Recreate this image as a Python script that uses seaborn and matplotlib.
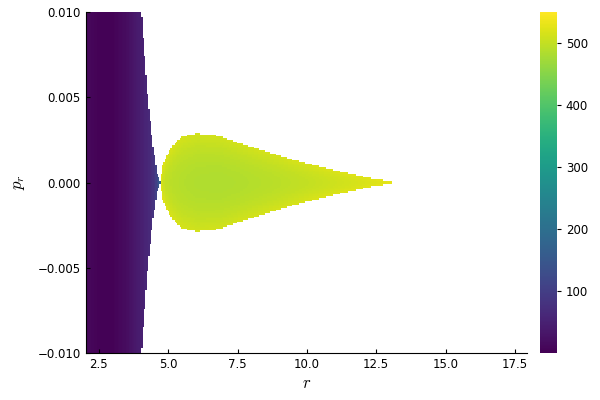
import matplotlib
matplotlib.use("Agg")
import matplotlib.pyplot as plt
import numpy as np
import pandas as pd
import seaborn as sns

# Left (bounded) region: right edge vs |p_r|, value vs r
left_p = [0.0, 0.00056, 0.00232, 0.00484, 0.0100]
left_r_edge = [4.73, 4.59, 4.44, 4.27, 4.04]
left_r = [2.03, 2.5, 3.0, 3.5, 4.0, 4.3, 4.5, 4.6, 4.7]
left_val = [12, 3, 4, 18, 45, 62, 85, 120, 170]

# Drop-shaped island: half-width in p_r and values on axis / at rim
drop_r = [4.74, 4.80, 4.90, 5.17, 5.53, 6.03, 6.86, 7.58, 8.77, 10.0, 11.19, 12.38, 13.1]
drop_half = [0.0003, 0.0010, 0.0014, 0.0022, 0.0027, 0.00287, 0.00273, 0.00229,
             0.0017, 0.00111, 0.00065, 0.00023, 0.00006]
drop_axis_val = [525, 510, 500, 492, 488, 485, 484, 486, 492, 500, 510, 520, 528]
drop_edge_val = [530, 525, 522, 518, 515, 512, 512, 513, 515, 518, 522, 526, 530]

x_ticks = [2.5, 5.0, 7.5, 10.0, 12.5, 15.0, 17.5]
y_ticks = [-0.010, -0.005, 0.000, 0.005, 0.010]
cbar_ticks = [100, 200, 300, 400, 500]

# grid
r_min, r_max, dr = 2.03, 17.93, 0.05
p_min, p_max, dp = -0.010, 0.010, 0.0001
nx = int(round((r_max - r_min) / dr))
ny = int(round((p_max - p_min) / dp))
r_c = r_min + dr * (np.arange(nx) + 0.5)
p_c = p_max - dp * (np.arange(ny) + 0.5)  # top row = largest p

R, P = np.meshgrid(r_c, p_c)
Z = np.full(R.shape, np.nan)

# left region
edge = np.interp(np.abs(P), left_p, left_r_edge)
in_left = R <= edge
Z[in_left] = np.interp(R[in_left], left_r, left_val)

# drop region
half = np.interp(R, drop_r, drop_half, left=0, right=0)
in_drop = (np.abs(P) <= half) & (R >= drop_r[0]) & (R <= drop_r[-1])
frac = np.abs(P[in_drop]) / half[in_drop]
v_axis = np.interp(R[in_drop], drop_r, drop_axis_val)
v_edge = np.interp(R[in_drop], drop_r, drop_edge_val)
Z[in_drop] = v_axis + (v_edge - v_axis) * frac ** 2

df = pd.DataFrame(Z, index=p_c, columns=r_c)

plt.rcParams["mathtext.fontset"] = "cm"
fig = plt.figure(figsize=(6, 4), dpi=100)
ax = fig.add_axes([0.143, 0.1175, 0.735, 0.8525])
cax = fig.add_axes([0.9, 0.1175, 0.028, 0.8525])

sns.heatmap(df, ax=ax, cbar_ax=cax, cmap="viridis", vmin=0, vmax=550,
            xticklabels=False, yticklabels=False, rasterized=True)

ax.set_xticks([(t - r_min) / dr for t in x_ticks])
ax.set_xticklabels([f"{t:.1f}" for t in x_ticks])
ax.set_yticks([(p_max - t) / dp for t in y_ticks])
ax.set_yticklabels([f"{t:.3f}".replace("-", "\u2212") for t in y_ticks])
ax.set_xlim(0, nx)
ax.set_ylim(ny, 0)
ax.tick_params(direction="in", length=3, labelsize=8.5, rotation=0)
for s in ["top", "right"]:
    ax.spines[s].set_visible(False)
for s in ["left", "bottom"]:
    ax.spines[s].set_visible(True)
    ax.spines[s].set_color("black")
ax.set_xlabel("$r$", fontsize=12, labelpad=2)
ax.set_ylabel("$p_r$", fontsize=12, labelpad=8)

cb = ax.collections[0].colorbar
cb.set_ticks(cbar_ticks)
cb.outline.set_visible(False)
cax.tick_params(direction="out", length=3, labelsize=8.5)

fig.savefig("out.png", dpi=100)
